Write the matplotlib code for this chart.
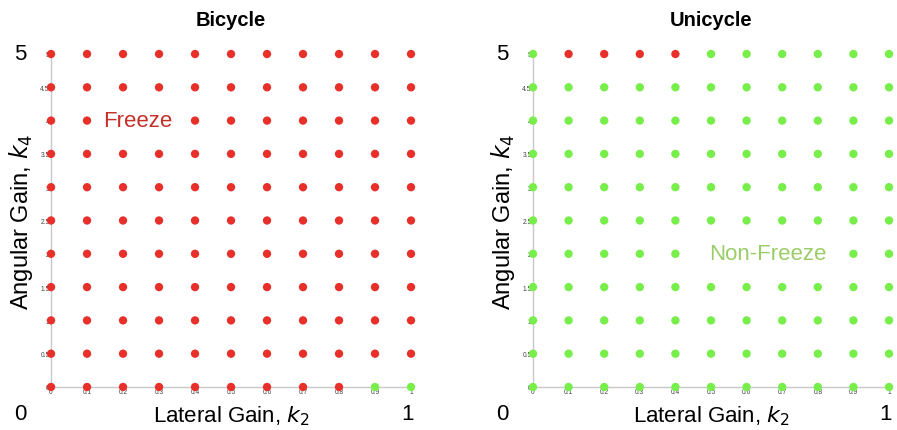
import matplotlib
matplotlib.use("Agg")
from matplotlib import pyplot as plt

plt.rcParams['font.family'] = ['Liberation Sans', 'DejaVu Sans']

# grid of tested gains
k2_values = [0, 0.1, 0.2, 0.3, 0.4, 0.5, 0.6, 0.7, 0.8, 0.9, 1]
k4_values = [0, 0.5, 1, 1.5, 2, 2.5, 3, 3.5, 4, 4.5, 5]
k2_labels = ["0", "0.1", "0.2", "0.3", "0.4", "0.5", "0.6", "0.7", "0.8", "0.9", "1"]
k4_labels = ["0", "0.5", "1", "1.5", "2", "2.5", "3", "3.5", "4", "4.5", "5"]

# exceptions: bicycle freezes almost everywhere, unicycle almost nowhere
bicycle_nonfreeze = [(0.9, 0), (1, 0)]
unicycle_freeze = [(0.1, 5), (0.2, 5), (0.3, 5), (0.4, 5)]

RED = "#e8302a"
GREEN = "#77ee4a"

fig = plt.figure(figsize=(8.97, 4.31), dpi=100)

def panel(rect, title, default_freeze, exceptions, label, label_pos, label_color):
    ax = fig.add_axes(rect)
    xs, ys, cs = [], [], []
    for y in k4_values:
        for x in k2_values:
            freeze = default_freeze != ((x, y) in exceptions)
            xs.append(x)
            ys.append(y)
            cs.append(RED if freeze else GREEN)
    ax.scatter(xs, ys, c=cs, s=36, clip_on=False, zorder=3, linewidths=0)
    ax.set_xlim(0, 1)
    ax.set_ylim(0, 5)
    ax.set_xticks(k2_values, k2_labels)
    ax.set_yticks(k4_values, k4_labels)
    ax.tick_params(length=0, labelsize=4.8, colors="#444444", pad=1)
    for s in ["top", "right"]:
        ax.spines[s].set_visible(False)
    for s in ["left", "bottom"]:
        ax.spines[s].set_color("#c8c8c8")
        ax.spines[s].set_linewidth(1.0)
    ax.set_title(title, fontsize=14.5, fontweight="bold", pad=21)
    ax.set_xlabel("Lateral Gain, $k_2$", fontsize=16, labelpad=6)
    ax.set_ylabel("Angular Gain, $k_4$", fontsize=17, labelpad=4)
    ax.text(label_pos[0], label_pos[1], label, fontsize=16, color=label_color,
            ha="center", va="center", zorder=5,
            bbox=dict(facecolor="white", edgecolor="none", pad=3))
    # range labels
    ax.text(-0.085, 5, "5", fontsize=16, ha="center", va="center", clip_on=False)
    ax.text(-0.085, -0.4, "0", fontsize=16, ha="center", va="center", clip_on=False)
    ax.text(0.99, -0.4, "1", fontsize=16, ha="center", va="center", clip_on=False)
    return ax

panel([0.0569, 0.0998, 0.4013, 0.7726], "Bicycle", True, bicycle_nonfreeze,
      "Freeze", (0.24, 4), "#c5302a")
panel([0.5942, 0.0998, 0.3969, 0.7726], "Unicycle", False, unicycle_freeze,
      "Non-Freeze", (0.66, 2), "#9acd68")

fig.savefig("out.png", dpi=100)
